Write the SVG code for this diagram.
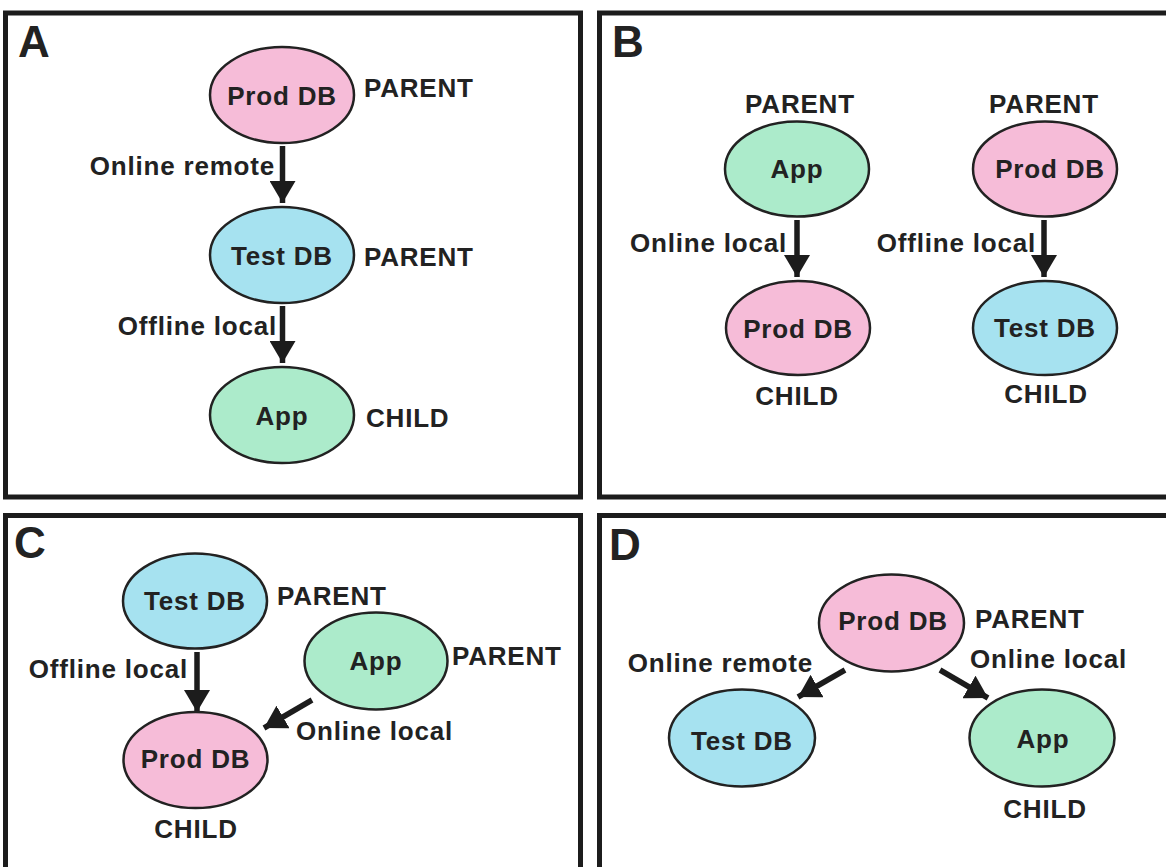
<svg xmlns="http://www.w3.org/2000/svg" width="1166" height="867" viewBox="0 0 1166 867">
<style>
.panel{fill:#fff;stroke:#1c1c1c;stroke-width:5}
.n{stroke:#222;stroke-width:2.5}
.pink{fill:#f6bcd8}
.cyan{fill:#a6e2f0}
.green{fill:#acebcb}
text{font-family:"Liberation Sans",Arial,sans-serif;font-weight:bold;fill:#222;font-size:26px;letter-spacing:0.8px}
.c{text-anchor:middle}
.e{text-anchor:end}
.big{font-size:44px;letter-spacing:0}
.arr{stroke:#1c1c1c;stroke-width:5.5;fill:none;marker-end:url(#ah)}
</style>
<defs>
<marker id="ah" markerUnits="userSpaceOnUse" markerWidth="24" markerHeight="26" refX="22" refY="13" orient="auto" viewBox="0 0 24 26">
<path d="M0,0 L22,13 L0,26 z" fill="#1c1c1c"/>
</marker>
</defs>
<rect width="1166" height="867" fill="#fff"/>
<g id="panels">
<rect class="panel" x="5.5" y="13" width="575" height="484"/>
<rect class="panel" x="599.5" y="13" width="600" height="484"/>
<rect class="panel" x="5.5" y="515.5" width="575" height="400"/>
<rect class="panel" x="599.5" y="515.5" width="600" height="400"/>
<text class="big" x="18" y="57">A</text>
<text class="big" x="612" y="57">B</text>
<text class="big" x="14" y="558">C</text>
<text class="big" x="609" y="560">D</text>
</g>
<g id="connectors">
<line class="arr" x1="282.5" y1="146" x2="282.5" y2="203"/>
<line class="arr" x1="282.5" y1="306" x2="282.5" y2="363"/>
<line class="arr" x1="797" y1="220" x2="797" y2="277"/>
<line class="arr" x1="1044" y1="220" x2="1044" y2="277"/>
<line class="arr" x1="197" y1="652" x2="197" y2="712"/>
<line class="arr" x1="312" y1="700" x2="264" y2="728"/>
<line class="arr" x1="845" y1="670" x2="798" y2="697"/>
<line class="arr" x1="940" y1="670" x2="988" y2="698"/>
<text class="e" x="275" y="175">Online remote</text>
<text class="e" x="277" y="335">Offline local</text>
<text class="e" x="787" y="252">Online local</text>
<text class="e" x="1036" y="252">Offline local</text>
<text class="e" x="188" y="678">Offline local</text>
<text x="296" y="740">Online local</text>
<text class="e" x="813" y="672">Online remote</text>
<text x="970" y="668">Online local</text>
</g>
<g id="a-prod">
<ellipse class="n pink" cx="282" cy="95" rx="72" ry="48"/>
<text class="c" x="282" y="105">Prod DB</text>
<text x="364" y="97">PARENT</text>
</g>
<g id="a-test">
<ellipse class="n cyan" cx="282" cy="255" rx="72" ry="48"/>
<text class="c" x="282" y="265">Test DB</text>
<text x="364" y="266">PARENT</text>
</g>
<g id="a-app">
<ellipse class="n green" cx="282" cy="415" rx="72" ry="48"/>
<text class="c" x="282" y="425">App</text>
<text x="366" y="427">CHILD</text>
</g>
<g id="b-app">
<text class="c" x="800" y="113">PARENT</text>
<ellipse class="n green" cx="797" cy="169" rx="72" ry="47.5"/>
<text class="c" x="797" y="178">App</text>
</g>
<g id="b-prod-child">
<ellipse class="n pink" cx="798" cy="328" rx="72" ry="47"/>
<text class="c" x="798" y="338">Prod DB</text>
<text class="c" x="797" y="405">CHILD</text>
</g>
<g id="b-prod">
<text class="c" x="1044" y="113">PARENT</text>
<ellipse class="n pink" cx="1045" cy="169" rx="72" ry="47.5"/>
<text class="c" x="1050" y="178">Prod DB</text>
</g>
<g id="b-test">
<ellipse class="n cyan" cx="1045" cy="328" rx="72" ry="47"/>
<text class="c" x="1045" y="337">Test DB</text>
<text class="c" x="1046" y="403">CHILD</text>
</g>
<g id="c-test">
<ellipse class="n cyan" cx="195" cy="601" rx="72" ry="47.5"/>
<text class="c" x="195" y="610">Test DB</text>
<text x="277" y="605">PARENT</text>
</g>
<g id="c-app">
<ellipse class="n green" cx="376" cy="661" rx="71.5" ry="48.5"/>
<text class="c" x="376" y="670">App</text>
<text x="452" y="665">PARENT</text>
</g>
<g id="c-prod">
<ellipse class="n pink" cx="195.5" cy="760" rx="72" ry="48"/>
<text class="c" x="195.5" y="768">Prod DB</text>
<text class="c" x="196" y="838">CHILD</text>
</g>
<g id="d-prod">
<ellipse class="n pink" cx="891.5" cy="623" rx="72.5" ry="48.5"/>
<text class="c" x="893" y="630">Prod DB</text>
<text x="975" y="628">PARENT</text>
</g>
<g id="d-test">
<ellipse class="n cyan" cx="742" cy="738" rx="73" ry="48.5"/>
<text class="c" x="742" y="750">Test DB</text>
</g>
<g id="d-app">
<ellipse class="n green" cx="1042" cy="738" rx="72.5" ry="48.5"/>
<text class="c" x="1043" y="748">App</text>
<text class="c" x="1045" y="818">CHILD</text>
</g>
</svg>
